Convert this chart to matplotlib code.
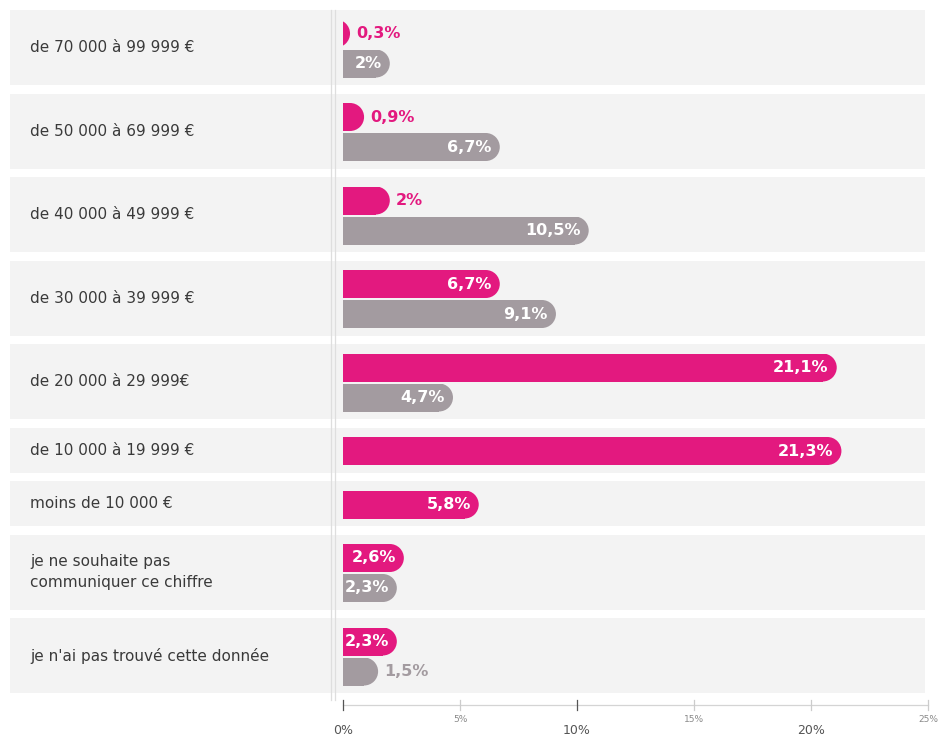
import matplotlib.pyplot as plt
from matplotlib.patches import Rectangle, Ellipse
from matplotlib.lines import Line2D

CATEGORIES = [
    "de 70 000 à 99 999 €",
    "de 50 000 à 69 999 €",
    "de 40 000 à 49 999 €",
    "de 30 000 à 39 999 €",
    "de 20 000 à 29 999€",
    "de 10 000 à 19 999 €",
    "moins de 10 000 €",
    "je ne souhaite pas\ncommuniquer ce chiffre",
    "je n'ai pas trouvé cette donnée",
]
PINK_VALUES = [0.3, 0.9, 2.0, 6.7, 21.1, 21.3, 5.8, 2.6, 2.3]
GRAY_VALUES = [2.0, 6.7, 10.5, 9.1, 4.7, None, None, 2.3, 1.5]
TICKS = [0, 5, 10, 15, 20, 25]

PINK = "#e3197f"
GRAY = "#a39ba0"
BAND = "#f3f3f3"
TEXT = "#3a3a3a"

W, H = 938, 737
X0_PX = 343          # pixel position of 0%
PX_PER_PCT = 23.4
TOP = 10
ROW2_H, ROW1_H, GAP = 75, 45, 8.5
BAR_H, BAR_GAP = 28, 2


def fmt(v):
    s = f"{v:.1f}".rstrip("0").rstrip(".")
    return s.replace(".", ",") + "%"


def rounded_bar(ax, x_len, y_top, color, px_x, px_y):
    # flat left end at 0, round right end (circular in pixels)
    r_y = BAR_H / 2
    r_x = r_y * px_y / px_x
    clip = Rectangle((0, y_top), 100, BAR_H, transform=ax.transData)
    body_len = max(x_len - r_x, 0)
    rect = Rectangle((0, y_top), body_len, BAR_H, facecolor=color, edgecolor="none", zorder=3)
    cap = Ellipse((x_len - r_x, y_top + r_y), 2 * r_x, BAR_H, facecolor=color, edgecolor="none", zorder=3)
    for p in (rect, cap):
        ax.add_patch(p)
        p.set_clip_path(clip)


def main():
    fig = plt.figure(figsize=(W / 100, H / 100), dpi=100)
    ax = fig.add_axes([0, 0, 1, 1])
    xmin = -X0_PX / PX_PER_PCT
    xmax = (W - X0_PX) / PX_PER_PCT
    ax.set_xlim(xmin, xmax)
    ax.set_ylim(H, 0)
    ax.axis("off")
    px_x, px_y = PX_PER_PCT, 1.0

    band_left = (10 - X0_PX) / PX_PER_PCT
    band_right = (925 - X0_PX) / PX_PER_PCT
    label_x = (30 - X0_PX) / PX_PER_PCT
    pad = 8 / PX_PER_PCT

    y = TOP
    for cat, pv, gv in zip(CATEGORIES, PINK_VALUES, GRAY_VALUES):
        two = gv is not None
        h = ROW2_H if two else ROW1_H
        ax.add_patch(Rectangle((band_left, y), band_right - band_left, h,
                               facecolor=BAND, edgecolor="none", zorder=1))
        ax.text(label_x, y + h / 2, cat, ha="left", va="center", fontsize=11,
                color=TEXT, linespacing=1.55, zorder=4)

        bars = [(pv, PINK, pv > 2.2)]
        if two:
            bars.append((gv, GRAY, gv >= 2.0))
        total = len(bars) * BAR_H + (len(bars) - 1) * BAR_GAP
        by = y + (h - total) / 2 + 1
        for val, col, inside in bars:
            rounded_bar(ax, val, by, col, px_x, px_y)
            cy = by + BAR_H / 2
            if inside:
                ax.text(val - pad, cy, fmt(val), ha="right", va="center", fontsize=11.5,
                        fontweight="bold", color="white", zorder=5)
            else:
                ax.text(val + 6 / PX_PER_PCT, cy, fmt(val), ha="left", va="center",
                        fontsize=11.5, fontweight="bold", color=col, zorder=5)
            by += BAR_H + BAR_GAP
        y += h + GAP

    # vertical separator line
    for xp in (330.5, 334.5):
        xv = (xp - X0_PX) / PX_PER_PCT
        ax.add_line(Line2D([xv, xv], [TOP, 700], color="#dedede", lw=0.9, zorder=2))

    # bottom axis
    axis_y = 705
    ax.add_line(Line2D([0, TICKS[-1]], [axis_y, axis_y], color="#d4d4d4", lw=0.9))
    for t in TICKS:
        ax.add_line(Line2D([t, t], [axis_y - 5, axis_y + 5],
                           color="#555555" if t in (0, 10) else "#cccccc", lw=0.9))
        if t % 10 == 0:
            ax.text(t, 731, f"{t}%", ha="center", va="center", fontsize=9, color="#555555")
        else:
            ax.text(t, 720, f"{t}%", ha="center", va="center", fontsize=6.5, color="#8a8a8a")

    fig.savefig("out.png", dpi=100)
    plt.close(fig)


if __name__ == "__main__":
    main()
